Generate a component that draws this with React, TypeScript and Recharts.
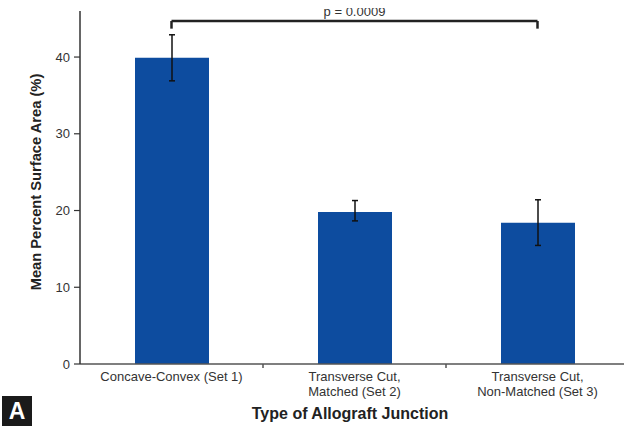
import React from "react";
import {
  BarChart,
  Bar,
  XAxis,
  YAxis,
  ErrorBar,
  ReferenceLine,
} from "recharts";

const CATEGORIES = [
  "Concave-Convex (Set 1)",
  "Transverse Cut,\nMatched (Set 2)",
  "Transverse Cut,\nNon-Matched (Set 3)",
];
const MEANS = [39.9, 19.8, 18.4];
const ERRORS: [number, number][] = [
  [3.0, 3.0],
  [1.15, 1.5],
  [2.95, 3.0],
];
const Y_TICKS = [0, 10, 20, 30, 40];
const P_LABEL = "p = 0.0009";
const BRACKET_Y = 44.7;
const BRACKET_DROP = 43.7;

const data = CATEGORIES.map((name, i) => ({ name, mean: MEANS[i], err: ERRORS[i] }));

const FONT = '"Liberation Sans", Arial, sans-serif';
const BLUE = "#0d4c9f";
const INK = "#333";

function CategoryTick(props: any) {
  const { x, y, payload, index } = props;
  const lines = String(payload.value).split("\n");
  const half = payload.offset ?? 91.5;
  return (
    <g>
      {index > 0 && (
        <line x1={x - half} x2={x - half} y1={y} y2={y + 4} stroke="#555" strokeWidth={1.5} />
      )}
      <text x={x} y={y} textAnchor="middle" fill={INK} fontSize={13} fontFamily={FONT}>
        {lines.map((l, i) => (
          <tspan key={i} x={x} dy={i === 0 ? 17 : 15}>
            {l}
          </tspan>
        ))}
      </text>
    </g>
  );
}

export default function App() {
  return (
    <div
      style={{
        position: "absolute",
        left: 0,
        top: 0,
        width: 624,
        height: 426,
        overflow: "hidden",
        background: "#fff",
      }}
    >
      <BarChart
        width={640}
        height={426}
        data={data}
        margin={{ top: 11, right: 11, bottom: 0, left: 0 }}
      >
        <XAxis
          dataKey="name"
          height={62}
          tickSize={0}
          tickMargin={0}
          tickLine={false}
          interval={0}
          axisLine={{ stroke: "#555", strokeWidth: 1.5 }}
          tick={<CategoryTick />}
          label={{
            content: () => (
              <text
                x={350}
                y={419}
                textAnchor="middle"
                fill="#222"
                fontSize={16}
                fontWeight="bold"
                fontFamily={FONT}
              >
                Type of Allograft Junction
              </text>
            ),
          }}
        />
        <YAxis
          width={80}
          domain={[0, 46]}
          ticks={Y_TICKS}
          allowDataOverflow
          tickSize={6}
          tickMargin={4}
          axisLine={{ stroke: INK, strokeWidth: 1.5 }}
          tickLine={{ stroke: INK, strokeWidth: 1.2 }}
          tick={{ fill: INK, fontSize: 13, fontFamily: FONT }}
          label={{
            content: () => (
              <text
                x={41}
                y={182}
                transform="rotate(-90 41 182)"
                textAnchor="middle"
                fill="#222"
                fontSize={14.7}
                fontWeight="bold"
                fontFamily={FONT}
              >
                Mean Percent Surface Area (%)
              </text>
            ),
          }}
        />
        <Bar dataKey="mean" fill={BLUE} barSize={74} isAnimationActive={false}>
          <ErrorBar dataKey="err" width={3} stroke="#111" strokeWidth={1.5} isAnimationActive={false} />
        </Bar>
        <ReferenceLine
          segment={[
            { x: CATEGORIES[0], y: BRACKET_Y },
            { x: CATEGORIES[2], y: BRACKET_Y },
          ]}
          stroke="#222"
          strokeWidth={2.5}
          ifOverflow="visible"
          label={{ value: P_LABEL, position: "top", offset: 5, fill: INK, fontSize: 13, fontFamily: FONT }}
        />
        <ReferenceLine
          segment={[
            { x: CATEGORIES[0], y: BRACKET_Y },
            { x: CATEGORIES[0], y: BRACKET_DROP },
          ]}
          stroke="#222"
          strokeWidth={2.5}
          ifOverflow="visible"
        />
        <ReferenceLine
          segment={[
            { x: CATEGORIES[2], y: BRACKET_Y },
            { x: CATEGORIES[2], y: BRACKET_DROP },
          ]}
          stroke="#222"
          strokeWidth={2.5}
          ifOverflow="visible"
        />
      </BarChart>
      {/* the source figure is cropped just above the p-value */}
      <div
        style={{ position: "absolute", left: 90, top: 0, width: 534, height: 8, background: "#fff" }}
      />
      <div
        style={{
          position: "absolute",
          left: 2,
          top: 396,
          width: 30,
          height: 30,
          background: "#1a1a1a",
          color: "#fff",
          fontFamily: FONT,
          fontWeight: "bold",
          fontSize: 23,
          lineHeight: "30px",
          textAlign: "center",
        }}
      >
        A
      </div>
    </div>
  );
}
